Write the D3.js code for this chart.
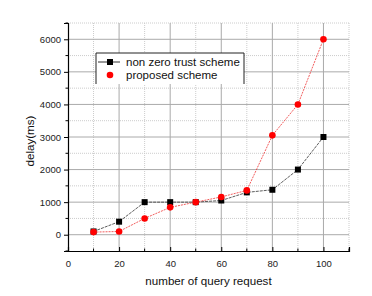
<!DOCTYPE html>
<html>
<head>
<meta charset="utf-8">
<script src="https://cdn.jsdelivr.net/npm/d3@7"></script>
<style>
  body { margin: 0; background: #fff; }
  svg { font-family: "Liberation Sans", Arial, sans-serif; display: block; }
  .tick text { font-size: 9.5px; fill: #222; }
</style>
</head>
<body>
<svg width="372" height="296"></svg>
<script>
const queries = [10, 20, 30, 40, 50, 60, 70, 80, 90, 100];
const nonZeroTrust = [100, 400, 1000, 1000, 1000, 1050, 1300, 1380, 2000, 3000];
const proposed = [80, 100, 500, 840, 1000, 1160, 1360, 3050, 4000, 6000];
const xTicks = [0, 20, 40, 60, 80, 100];
const yTicks = [0, 1000, 2000, 3000, 4000, 5000, 6000];
const seriesNames = ['non zero trust scheme', 'proposed scheme'];

const svg = d3.select('svg');
const width = +svg.attr('width');
const height = +svg.attr('height');
const margin = {top: 23, right: 23, bottom: 45, left: 68};
const innerWidth = width - margin.left - margin.right;
const innerHeight = height - margin.top - margin.bottom;

const xScale = d3.scaleLinear().domain([0, 110]).range([0, innerWidth]);
const yScale = d3.scaleLinear().domain([-500, 6500]).range([innerHeight, 0]);

const g = svg.append('g')
  .attr('transform', `translate(${margin.left}, ${margin.top})`);

// grid lines
const minorX = d3.range(10, 111, 20);
const minorY = d3.range(500, 6501, 1000);
g.selectAll('.vgrid-minor').data(minorX).join('line')
  .attr('x1', d => xScale(d)).attr('x2', d => xScale(d))
  .attr('y1', 0).attr('y2', innerHeight)
  .attr('stroke', '#ccc').attr('stroke-dasharray', '1,1');
g.selectAll('.hgrid-minor').data(minorY).join('line')
  .attr('x1', 0).attr('x2', innerWidth)
  .attr('y1', d => yScale(d)).attr('y2', d => yScale(d))
  .attr('stroke', '#ccc').attr('stroke-dasharray', '1,1');
g.selectAll('.vgrid').data(xTicks.slice(1)).join('line')
  .attr('x1', d => xScale(d)).attr('x2', d => xScale(d))
  .attr('y1', 0).attr('y2', innerHeight)
  .attr('stroke', '#aaa');
g.selectAll('.hgrid').data(yTicks).join('line')
  .attr('x1', 0).attr('x2', innerWidth)
  .attr('y1', d => yScale(d)).attr('y2', d => yScale(d))
  .attr('stroke', '#aaa');

// axes
const xAxisG = g.append('g')
  .attr('transform', `translate(0, ${innerHeight})`)
  .call(d3.axisBottom(xScale).tickValues(xTicks).tickSize(-4).tickPadding(9));
xAxisG.append('g').selectAll('line').data(minorX).join('line')
  .attr('x1', d => xScale(d)).attr('x2', d => xScale(d))
  .attr('y1', 0).attr('y2', -2.5).attr('stroke', '#000');

const yAxisG = g.append('g')
  .call(d3.axisLeft(yScale).tickValues(yTicks).tickFormat(d3.format('d')).tickSize(4).tickPadding(3));
yAxisG.append('g').selectAll('line').data(d3.range(-500, 6501, 1000)).join('line')
  .attr('x1', 0).attr('x2', -2.5)
  .attr('y1', d => yScale(d)).attr('y2', d => yScale(d)).attr('stroke', '#000');

[xAxisG, yAxisG].forEach(a => {
  a.select('.domain').attr('stroke', '#000').attr('stroke-width', 1.2);
  a.selectAll('.tick line').attr('stroke', '#000');
});

xAxisG.append('text')
  .text('number of query request')
  .attr('x', innerWidth / 2)
  .attr('y', 34)
  .attr('fill', '#111')
  .attr('font-size', 11.6)
  .attr('text-anchor', 'middle');

yAxisG.append('text')
  .text('delay(ms)')
  .attr('transform', 'rotate(-90)')
  .attr('x', -(yScale(3000) + 4))
  .attr('y', -34)
  .attr('fill', '#111')
  .attr('font-size', 11.6)
  .attr('text-anchor', 'middle');

// series
const lineGen = values => d3.line()
  .x((d, i) => xScale(queries[i]))
  .y(d => yScale(d))(values);

g.append('path')
  .attr('d', lineGen(nonZeroTrust))
  .attr('fill', 'none')
  .attr('stroke', '#333')
  .attr('stroke-width', 0.8)
  .attr('stroke-dasharray', '3,1');

g.append('path')
  .attr('d', lineGen(proposed))
  .attr('fill', 'none')
  .attr('stroke', '#e33')
  .attr('stroke-width', 0.8)
  .attr('stroke-dasharray', '2,1');

g.selectAll('.sq').data(nonZeroTrust).join('rect')
  .attr('x', (d, i) => xScale(queries[i]) - 3)
  .attr('y', d => yScale(d) - 3)
  .attr('width', 6).attr('height', 6)
  .attr('fill', '#000');

g.selectAll('.dot').data(proposed).join('circle')
  .attr('cx', (d, i) => xScale(queries[i]))
  .attr('cy', d => yScale(d))
  .attr('r', 3.3)
  .attr('fill', '#f00');

// legend
const lg = svg.append('g').attr('transform', 'translate(96, 53)');
lg.append('rect').attr('width', 148).attr('height', 31).attr('fill', '#fff');
lg.append('path').attr('d', 'M0,31V0H148V31').attr('fill', 'none').attr('stroke', '#222');
lg.append('line').attr('x1', 2).attr('x2', 24).attr('y1', 9).attr('y2', 9).attr('stroke', '#333');
lg.append('rect').attr('x', 11).attr('y', 6).attr('width', 6).attr('height', 6).attr('fill', '#000');
lg.append('circle').attr('cx', 14).attr('cy', 22).attr('r', 3.3).attr('fill', '#f00');
lg.selectAll('.lt').data(seriesNames).join('text')
  .attr('x', 30)
  .attr('y', (d, i) => 13 + i * 13)
  .attr('font-size', 11.5)
  .attr('fill', '#111')
  .text(d => d);
</script>
</body>
</html>
